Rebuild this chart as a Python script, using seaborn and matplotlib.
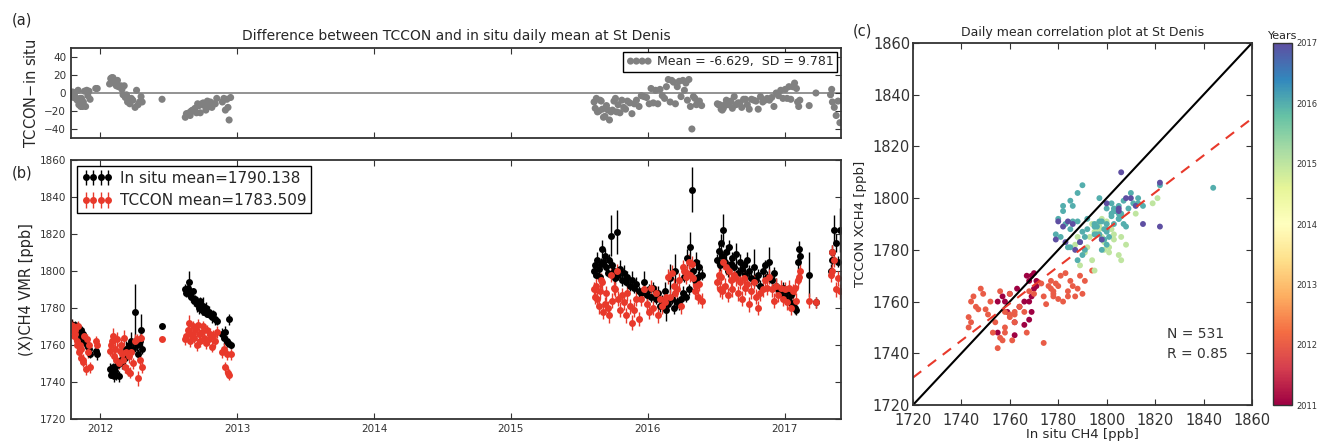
import numpy as np
import pandas as pd
import matplotlib
matplotlib.use("Agg")
import matplotlib.pyplot as plt
import matplotlib.dates as mdates
import seaborn as sns

# daily means at St Denis
dates = [
    # late 2011 (23)
    "2011-10-16", "2011-10-18", "2011-10-20", "2011-10-22", "2011-10-25", "2011-10-27", "2011-10-30", "2011-11-01",
    "2011-11-03", "2011-11-05", "2011-11-08", "2011-11-10", "2011-11-12", "2011-11-15", "2011-11-17", "2011-11-20",
    "2011-11-23", "2011-11-26", "2011-11-29", "2011-12-02", "2011-12-05", "2011-12-20", "2011-12-24",
    # early 2012 (27)
    "2012-01-26", "2012-01-29", "2012-02-01", "2012-02-04", "2012-02-07", "2012-02-10", "2012-02-13", "2012-02-16",
    "2012-02-19", "2012-02-22", "2012-02-25", "2012-02-28", "2012-03-02", "2012-03-05", "2012-03-08", "2012-03-11",
    "2012-03-14", "2012-03-17", "2012-03-20", "2012-03-24", "2012-03-28", "2012-04-03", "2012-04-07", "2012-04-11",
    "2012-04-15", "2012-04-19", "2012-04-22",
    # mid 2012 (1)
    "2012-06-14",
    # late 2012 (31)
    "2012-08-15", "2012-08-18", "2012-08-21", "2012-08-25", "2012-08-28", "2012-08-31", "2012-09-04", "2012-09-07",
    "2012-09-10", "2012-09-14", "2012-09-17", "2012-09-21", "2012-09-24", "2012-09-28", "2012-10-02", "2012-10-05",
    "2012-10-09", "2012-10-13", "2012-10-17", "2012-10-21", "2012-10-25", "2012-10-29", "2012-11-03", "2012-11-07",
    "2012-11-22", "2012-11-26", "2012-11-30", "2012-12-04", "2012-12-07", "2012-12-10", "2012-12-14",
    # 2015 (32)
    "2015-08-11", "2015-08-14", "2015-08-17", "2015-08-20", "2015-08-24", "2015-08-27", "2015-08-30", "2015-09-02",
    "2015-09-05", "2015-09-09", "2015-09-13", "2015-09-17", "2015-09-21", "2015-09-25", "2015-09-29", "2015-10-03",
    "2015-10-07", "2015-10-10", "2015-10-14", "2015-10-19", "2015-10-24", "2015-10-29", "2015-11-03", "2015-11-08",
    "2015-11-14", "2015-11-20", "2015-11-26", "2015-12-02", "2015-12-09", "2015-12-15", "2015-12-22", "2015-12-29",
    # early 2016 (30)
    "2016-01-05", "2016-01-10", "2016-01-16", "2016-01-22", "2016-01-28", "2016-02-03", "2016-02-09", "2016-02-15",
    "2016-02-20", "2016-02-25", "2016-03-01", "2016-03-05", "2016-03-10", "2016-03-15", "2016-03-20", "2016-03-25",
    "2016-03-30", "2016-04-04", "2016-04-08", "2016-04-12", "2016-04-16", "2016-04-20", "2016-04-24", "2016-04-28",
    "2016-05-02", "2016-05-06", "2016-05-10", "2016-05-14", "2016-05-18", "2016-05-24",
    # late 2016 (36)
    "2016-07-05", "2016-07-08", "2016-07-11", "2016-07-15", "2016-07-18", "2016-07-21", "2016-07-25", "2016-07-29",
    "2016-08-02", "2016-08-06", "2016-08-10", "2016-08-14", "2016-08-19", "2016-08-24", "2016-08-29", "2016-09-03",
    "2016-09-08", "2016-09-13", "2016-09-18", "2016-09-23", "2016-09-28", "2016-10-04", "2016-10-10", "2016-10-16",
    "2016-10-22", "2016-10-28", "2016-11-03", "2016-11-09", "2016-11-15", "2016-11-21", "2016-11-27", "2016-12-03",
    "2016-12-09", "2016-12-15", "2016-12-21", "2016-12-27",
    # 2017 (19)
    "2017-01-02", "2017-01-07", "2017-01-12", "2017-01-17", "2017-01-22", "2017-01-27", "2017-02-01", "2017-02-04",
    "2017-02-07", "2017-02-10", "2017-03-07", "2017-03-25", "2017-05-03", "2017-05-06", "2017-05-08", "2017-05-13",
    "2017-05-18", "2017-05-23", "2017-05-28",
]

insitu = [
    1770, 1771, 1769, 1770, 1768, 1771, 1769, 1768, 1767, 1769, 1766, 1768, 1764, 1766, 1762, 1763,
    1762, 1760, 1759, 1758, 1755, 1757, 1755,
    1747, 1744, 1745, 1748, 1743, 1746, 1744, 1749, 1743, 1750, 1752, 1751, 1754, 1756, 1753, 1758,
    1756, 1760, 1757, 1762, 1758, 1778, 1760, 1755, 1762, 1768, 1758,
    1770,
    1790, 1788, 1791, 1794, 1787, 1786, 1789, 1784, 1785, 1782, 1783, 1780, 1784, 1779, 1781, 1778,
    1780, 1777, 1778, 1776, 1775, 1777, 1774, 1773, 1766, 1764, 1767, 1762, 1761, 1774, 1760,
    1800, 1803, 1798, 1806, 1801, 1797, 1804, 1812, 1805, 1808, 1802, 1799, 1806, 1819, 1803, 1800,
    1796, 1821, 1798, 1801, 1795, 1799, 1794, 1797, 1792, 1795, 1791, 1793, 1789, 1788, 1794, 1787,
    1790, 1786, 1791, 1785, 1788, 1781, 1784, 1789, 1779, 1782, 1796, 1785, 1780, 1800, 1783, 1782,
    1785, 1788, 1797, 1786, 1807, 1790, 1813, 1844, 1800, 1795, 1805, 1797, 1802, 1798,
    1806, 1811, 1803, 1815, 1808, 1822, 1805, 1810, 1800, 1813, 1804, 1807, 1802, 1809, 1799, 1805,
    1801, 1803, 1798, 1806, 1800, 1796, 1802, 1795, 1798, 1792, 1800, 1803, 1797, 1805, 1795, 1799,
    1792, 1790, 1788, 1791,
    1786, 1789, 1784, 1787, 1782, 1780, 1779, 1805, 1812, 1808, 1798, 1783, 1800, 1806, 1810, 1822,
    1815, 1805, 1822,
]

tccon = [
    1771, 1768, 1770, 1765, 1768, 1766, 1762, 1760, 1770, 1756, 1760, 1753, 1758, 1751, 1752, 1765,
    1747, 1763, 1756, 1760, 1748, 1762, 1760,
    1757, 1760, 1762, 1765, 1754, 1758, 1752, 1763, 1750, 1757, 1760, 1755, 1752, 1764, 1748, 1756,
    1746, 1754, 1745, 1756, 1750, 1762, 1763, 1742, 1752, 1764, 1748,
    1763,
    1763, 1765, 1768, 1772, 1762, 1766, 1770, 1764, 1768, 1760, 1771, 1766, 1762, 1767, 1770, 1764,
    1761, 1768, 1763, 1766, 1759, 1765, 1762, 1767, 1756, 1758, 1748, 1755, 1745, 1744, 1755,
    1790, 1786, 1792, 1785, 1781, 1789, 1795, 1794, 1778, 1782, 1788, 1780, 1776, 1798, 1784, 1791,
    1790, 1800, 1785, 1779, 1787, 1783, 1776, 1788, 1781, 1772, 1779, 1785, 1774, 1785, 1790, 1782,
    1778, 1791, 1780, 1788, 1776, 1785, 1781, 1783, 1786, 1797, 1786, 1799, 1792, 1788, 1790, 1795,
    1781, 1802, 1800, 1797, 1799, 1805, 1798, 1804, 1796, 1789, 1792, 1786, 1793, 1784,
    1794, 1798, 1790, 1797, 1789, 1805, 1792, 1802, 1787, 1800, 1795, 1790, 1798, 1796, 1788, 1794,
    1785, 1796, 1791, 1793, 1782, 1789, 1794, 1786, 1780, 1788, 1790, 1795, 1791, 1797, 1790, 1784,
    1792, 1787, 1791, 1785,
    1790, 1783, 1791, 1780, 1789, 1791, 1784, 1795, 1797, 1800, 1784, 1783, 1798, 1810, 1800, 1806,
    1790, 1796, 1789,
]

insitu_err = [
    2, 3, 2, 2, 3, 2, 2, 3, 2, 2, 3, 2, 2, 3, 2, 3, 2, 2, 3, 2, 2, 2, 3,
    3, 2, 3, 2, 3, 2, 3, 2, 3, 2, 3, 4, 3, 2, 3, 4, 3, 2, 3, 5, 3, 15, 3, 3, 4, 9, 3,
    1,
    3, 2, 3, 6, 2, 3, 2, 3, 2, 4, 2, 3, 2, 3, 5, 2, 3, 2, 3, 2, 3, 2, 3, 2, 3, 4, 3, 3, 2, 3, 2,
    3, 3, 2, 4, 3, 2, 3, 5, 3, 4, 3, 2, 3, 11, 3, 4, 3, 12, 3, 5, 3, 4, 2, 3, 3, 5, 3, 4, 3, 3, 6, 3,
    3, 3, 3, 3, 4, 3, 3, 5, 6, 3, 8, 3, 3, 9, 3, 3, 3, 4, 3, 3, 5, 3, 8, 12, 4, 3, 5, 3, 4, 3,
    3, 4, 3, 5, 3, 9, 3, 4, 3, 4, 3, 3, 3, 6, 3, 4, 3, 3, 3, 4, 3, 3, 10, 3, 3, 3, 4, 3, 3, 8, 3, 3,
    4, 3, 3, 3,
    3, 3, 3, 3, 3, 3, 3, 4, 4, 3, 12, 3, 4, 3, 4, 8, 5, 3, 12,
]

tccon_err = [
    3, 3, 3, 3, 3, 3, 3, 3, 3, 3, 3, 3, 3, 3, 3, 3, 3, 3, 3, 3, 3, 3, 3,
    3, 4, 3, 4, 3, 4, 3, 4, 3, 4, 3, 4, 3, 4, 3, 4, 3, 4, 3, 4, 3, 4, 3, 4, 3, 3, 3,
    1,
    3, 3, 3, 4, 3, 3, 3, 3, 3, 3, 3, 3, 3, 3, 3, 3, 3, 3, 3, 3, 3, 3, 3, 3, 3, 3, 3, 3, 3, 3, 3,
    4, 4, 4, 4, 4, 4, 4, 4, 4, 4, 4, 4, 4, 4, 4, 4, 4, 4, 4, 4, 4, 4, 4, 4, 4, 4, 4, 4, 4, 4, 4, 4,
    4, 4, 4, 4, 4, 4, 4, 4, 4, 4, 4, 4, 4, 4, 4, 4, 4, 4, 4, 4, 4, 4, 4, 4, 4, 4, 4, 4, 4, 4,
    4, 4, 4, 4, 4, 4, 4, 4, 4, 4, 4, 4, 4, 4, 4, 4, 4, 4, 4, 4, 4, 4, 4, 4, 4, 4, 4, 4, 4, 4, 4, 4,
    4, 4, 4, 4,
    4, 4, 4, 4, 4, 4, 4, 4, 4, 4, 4, 3, 4, 4, 4, 4, 4, 4, 4,
]

years = [2011, 2012, 2013, 2014, 2015, 2016, 2017]
insitu_label = "In situ mean=1790.138"
tccon_label = "TCCON mean=1783.509"
diff_label = "Mean = -6.629,  SD = 9.781"
n_text = "N = 531"
r_text = "R = 0.85"

df = pd.DataFrame({
    "date": pd.to_datetime(dates),
    "insitu": insitu,
    "tccon": tccon,
    "insitu_err": insitu_err,
    "tccon_err": tccon_err,
})
df["diff"] = df["tccon"] - df["insitu"]
df["year"] = df["date"].dt.year

red = "#e8392b"
dark = "#333333"

sns.set_style("ticks")
plt.rcParams.update({
    "font.family": ["DejaVu Sans"],
    "xtick.direction": "in",
    "ytick.direction": "in",
    "xtick.top": True,
    "ytick.right": True,
    "xtick.major.size": 4,
    "ytick.major.size": 4,
    "axes.edgecolor": dark,
    "axes.linewidth": 1.3,
    "xtick.color": dark,
    "ytick.color": dark,
    "legend.fancybox": False,
    "legend.edgecolor": "black",
    "legend.framealpha": 1,
})

fig = plt.figure(figsize=(13.17, 4.41), dpi=100)
ax_a = fig.add_axes([0.0539, 0.6871, 0.5847, 0.2041])
ax_b = fig.add_axes([0.0539, 0.0499, 0.5847, 0.5873], sharex=ax_a)
ax_c = fig.add_axes([0.6932, 0.0816, 0.2574, 0.8209])
cax = fig.add_axes([0.9666, 0.0816, 0.0144, 0.8209])

# (a) difference
ax_a.axhline(0, color="gray", lw=1.2, zorder=0)
sns.scatterplot(data=df, x="date", y="diff", color="gray", s=26, edgecolor="none",
                label=diff_label, ax=ax_a)
ax_a.set_ylim(-50, 50)
ax_a.set_yticks([-40, -20, 0, 20, 40])
ax_a.set_xlabel("")
ax_a.set_ylabel("TCCON$-$in situ", fontsize=10.5)
ax_a.set_title("Difference between TCCON and in situ daily mean at St Denis", fontsize=10, pad=6)
ax_a.tick_params(labelbottom=False, labelsize=7.5)
ax_a.legend(loc="upper right", scatterpoints=4, scatteryoffsets=[0.5], fontsize=9,
            borderpad=0.3, handletextpad=0.4, borderaxespad=0.3)

# (b) time series with error bars
ax_b.errorbar(df["date"], df["insitu"], yerr=df["insitu_err"], fmt="o", color="k", ms=5,
              mew=0, elinewidth=1, capsize=3, capthick=1, label=insitu_label)
ax_b.errorbar(df["date"], df["tccon"], yerr=df["tccon_err"], fmt="o", color=red, ms=5,
              mew=0, elinewidth=1, capsize=3, capthick=1, label=tccon_label)
ax_b.set_ylim(1720, 1860)
ax_b.set_yticks(np.arange(1720, 1861, 20))
ax_b.set_xlim(pd.Timestamp("2011-10-15"), pd.Timestamp("2017-05-31"))
ax_b.xaxis.set_major_locator(mdates.YearLocator())
ax_b.xaxis.set_major_formatter(mdates.DateFormatter("%Y"))
ax_b.set_ylabel("(X)CH4 VMR [ppb]", fontsize=10.5)
ax_b.tick_params(labelsize=7.5)
ax_b.legend(loc="upper left", numpoints=4, fontsize=11, borderpad=0.3,
            handletextpad=0.5, borderaxespad=0.4)

# (c) correlation plot
lim = [1720, 1860]
sns.scatterplot(data=df, x="insitu", y="tccon", hue="year", palette="Spectral",
                hue_norm=(years[0], years[-1]), s=18, edgecolor="none", legend=False, ax=ax_c)
ax_c.plot(lim, lim, color="k", lw=1.5)
slope, intercept = np.polyfit(df["insitu"], df["tccon"], 1)
fit_x = np.array(lim)
ax_c.plot(fit_x, slope * fit_x + intercept, color=red, lw=1.5, dashes=(5, 4))
ax_c.set_xlim(lim)
ax_c.set_ylim(lim)
ax_c.set_xticks(np.arange(1720, 1861, 20))
ax_c.set_yticks(np.arange(1720, 1861, 20))
ax_c.tick_params(labelsize=10.5)
ax_c.tick_params(axis="x", pad=6)
ax_c.tick_params(axis="y", pad=2)
ax_c.set_xlabel("In situ CH4 [ppb]", fontsize=9.5, labelpad=0)
ax_c.set_ylabel("TCCON XCH4 [ppb]", fontsize=9.5)
ax_c.set_title("Daily mean correlation plot at St Denis", fontsize=9, pad=5)
ax_c.text(1825, 1746, n_text, fontsize=10, color=dark)
ax_c.text(1825, 1738, r_text, fontsize=10, color=dark)

sm = plt.cm.ScalarMappable(cmap="Spectral", norm=plt.Normalize(years[0], years[-1]))
cb = fig.colorbar(sm, cax=cax, ticks=years, format="%d")
cb.ax.tick_params(labelsize=6, direction="in", length=3)
cb.outline.set_linewidth(1)
cax.set_title("Years", fontsize=8, pad=3)

fig.text(0.0167, 0.955, "(a)", fontsize=10.5, ha="center", va="center")
fig.text(0.0167, 0.608, "(b)", fontsize=10.5, ha="center", va="center")
fig.text(0.655, 0.93, "(c)", fontsize=10.5, ha="center", va="center")

fig.savefig("out.png", dpi=100)
